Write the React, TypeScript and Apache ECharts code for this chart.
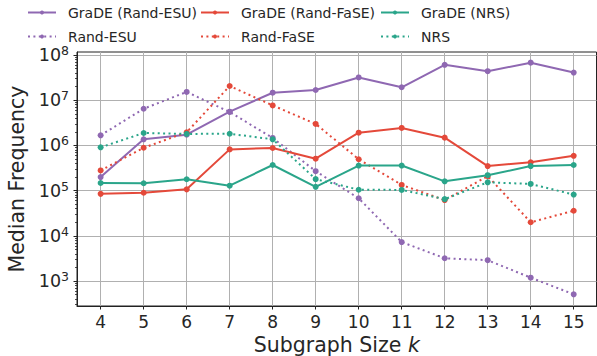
import React, { useEffect, useRef } from 'react';
import * as echarts from 'echarts';

const sizes = [4, 5, 6, 7, 8, 9, 10, 11, 12, 13, 14, 15];
const gradeEsu = [2.0e5, 1.37e6, 1.73e6, 5.6e6, 1.47e7, 1.69e7, 3.2e7, 1.94e7, 6.1e7, 4.4e7, 6.8e7, 4.1e7];
const randEsu = [1.68e6, 6.5e6, 1.53e7, 5.5e6, 1.47e6, 2.7e5, 6.8e4, 7.3e3, 3.2e3, 2.9e3, 1.19e3, 510];
const gradeFase = [8.5e4, 9.0e4, 1.07e5, 8.2e5, 8.8e5, 5.1e5, 1.92e6, 2.44e6, 1.49e6, 3.5e5, 4.25e5, 5.9e5];
const randFase = [2.8e5, 8.9e5, 1.96e6, 2.07e7, 7.7e6, 3.0e6, 4.96e5, 1.34e5, 6.2e4, 2.1e5, 2.0e4, 3.6e4];
const gradeNrs = [1.48e5, 1.46e5, 1.79e5, 1.29e5, 3.7e5, 1.22e5, 3.6e5, 3.6e5, 1.61e5, 2.2e5, 3.5e5, 3.7e5];
const nrs = [9.1e5, 1.89e6, 1.8e6, 1.82e6, 1.37e6, 1.8e5, 1.05e5, 1.04e5, 6.5e4, 1.53e5, 1.41e5, 8.2e4];
const yTicks = [1e3, 1e4, 1e5, 1e6, 1e7, 1e8];

const PURPLE = '#8f68b2';
const RED = '#e4493a';
const GREEN = '#2aa58a';
const FONT = 'DejaVu Sans';
const TEXT = '#262626';
const AXIS = '#222222';
const DOTS = [2, 3.4];

const minorTicks: number[] = [];
for (let e = 2; e <= 7; e++) {
  for (let m = 2; m <= 9; m++) minorTicks.push(m * Math.pow(10, e));
}

function mk(name: string, data: number[], color: string, dotted: boolean, z: number) {
  return {
    type: 'line',
    name,
    data: sizes.map((s, i) => [s, data[i]]),
    symbol: 'circle',
    symbolSize: 6,
    showSymbol: true,
    z,
    lineStyle: { color, width: 2, type: dotted ? DOTS : 'solid', cap: 'butt' },
    itemStyle: { color, borderWidth: 0 },
    emphasis: { disabled: true },
  };
}

function legendCol(left: number, names: string[]) {
  return {
    data: names,
    left,
    top: 4,
    orient: 'vertical',
    itemWidth: 28,
    itemHeight: 5,
    itemGap: 7,
    padding: 0,
    selectedMode: false,
    textStyle: { fontSize: 14, color: TEXT, lineHeight: 17, fontFamily: FONT, padding: [0, 0, 0, 7] },
  };
}

export default function App() {
  const ref = useRef<HTMLDivElement>(null);
  useEffect(() => {
    if (!ref.current) return;
    const chart = echarts.init(ref.current, undefined, { renderer: 'svg' });
    const yMin = 281;
    const yMax = 1.17e8;
    chart.setOption({
      animation: false,
      backgroundColor: '#ffffff',
      textStyle: { fontFamily: FONT },
      grid: {
        left: 77, right: 0.5, top: 52, bottom: 50,
        show: true, borderColor: AXIS, borderWidth: 1, backgroundColor: 'transparent',
        outerBoundsMode: 'none',
      },
      legend: [
        legendCol(27, ['GraDE (Rand-ESU)', 'Rand-ESU']),
        legendCol(200, ['GraDE (Rand-FaSE)', 'Rand-FaSE']),
        legendCol(380, ['GraDE (NRS)', 'NRS']),
      ],
      xAxis: {
        type: 'value',
        min: 3.45,
        max: 15.53,
        splitNumber: 12,
        axisLine: { show: true, lineStyle: { color: AXIS, width: 1 } },
        axisTick: { show: true, length: 3.5, lineStyle: { color: AXIS }, customValues: sizes },
        axisLabel: {
          customValues: sizes,
          fontSize: 17, color: TEXT, margin: 7, fontFamily: FONT,
          formatter: (v: number) => (Number.isInteger(v) ? String(v) : ''),
        },
        splitLine: { show: true, lineStyle: { color: '#b0b0b0', width: 1 } },
        name: 'Subgraph Size {k|k}',
        nameLocation: 'middle',
        nameGap: 28,
        nameTextStyle: {
          fontSize: 20.5, color: TEXT, fontFamily: FONT,
          rich: { k: { fontStyle: 'italic', fontSize: 20.5, color: TEXT, fontFamily: FONT } },
        },
      },
      yAxis: [
        {
          type: 'log',
          min: yMin,
          max: yMax,
          axisLine: { show: true, lineStyle: { color: AXIS, width: 1 } },
          axisTick: { show: true, length: 3.5, lineStyle: { color: AXIS }, customValues: yTicks },
          axisLabel: {
            customValues: yTicks,
            margin: 8,
            color: TEXT,
            formatter: (v: number) => {
              const l = Math.log10(v);
              const e = Math.round(l);
              if (Math.abs(l - e) > 1e-6) return '';
              return `{b|10}{s|${e}}`;
            },
            rich: {
              b: { fontSize: 17.5, lineHeight: 22, color: TEXT, fontFamily: FONT },
              s: { fontSize: 12.5, lineHeight: 12, verticalAlign: 'top', color: TEXT, fontFamily: FONT },
            },
          },
          splitLine: { show: true, lineStyle: { color: '#b0b0b0', width: 1 } },
          minorTick: { show: false },
          name: 'Median Frequency',
          nameLocation: 'middle',
          nameGap: 43,
          nameTextStyle: { fontSize: 20.5, color: TEXT, fontFamily: FONT },
        },
        {
          type: 'log',
          min: yMin,
          max: yMax,
          position: 'left',
          axisLine: { show: false },
          axisTick: { show: true, length: 2, lineStyle: { color: AXIS, width: 0.8 }, customValues: minorTicks },
          axisLabel: { show: false },
          splitLine: { show: false },
        },
      ],
      series: [
        mk('GraDE (Rand-ESU)', gradeEsu, PURPLE, false, 2),
        mk('Rand-ESU', randEsu, PURPLE, true, 3),
        mk('GraDE (Rand-FaSE)', gradeFase, RED, false, 4),
        mk('Rand-FaSE', randFase, RED, true, 5),
        mk('GraDE (NRS)', gradeNrs, GREEN, false, 6),
        mk('NRS', nrs, GREEN, true, 7),
      ],
    });
    return () => chart.dispose();
  }, []);
  return (
    <div
      ref={ref}
      style={{ position: 'absolute', left: 0, top: 0, width: 597, height: 356, background: '#fff' }}
    />
  );
}
